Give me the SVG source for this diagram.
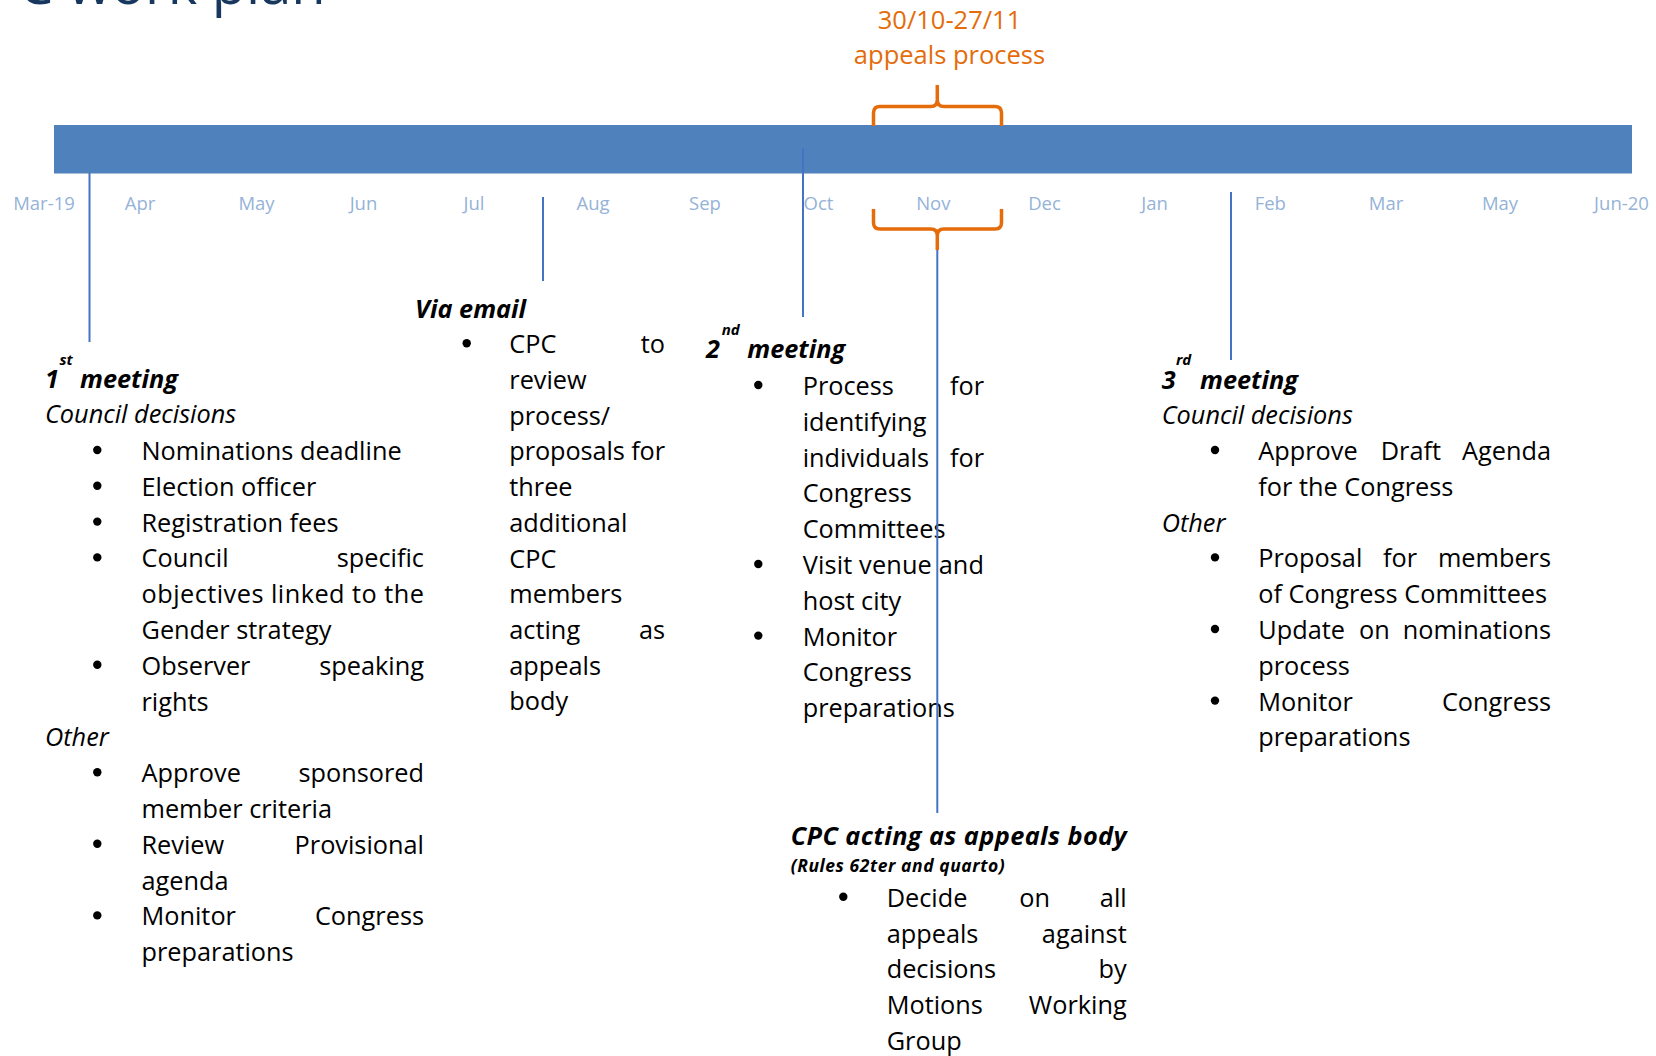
<svg xmlns="http://www.w3.org/2000/svg" width="1656" height="1056" viewBox="0 0 1656 1056">
<style>
text{font-family:"Open Sans","Liberation Sans",sans-serif;fill:#000}
.b{font-size:25.3px}
.i{font-size:25.3px;font-style:italic}
.h{font-size:25.3px;font-style:italic;font-weight:bold}
.sup{font-size:15px;font-style:italic;font-weight:bold}
.e{text-anchor:end}
.bul{fill:#000}
.m{font-size:18.5px;fill:#95B3D7;text-anchor:middle}
.o{font-size:25.5px;fill:#E46C0A;text-anchor:middle}
.ln{stroke:#4472C4;stroke-width:2;fill:none}
.br{stroke:#E46C0A;stroke-width:3.5;fill:none;stroke-linejoin:round}
</style>
<defs><circle id="dot" r="4.2" class="bul"/></defs>
<rect width="1656" height="1056" fill="#fff"/>
<text x="18" y="4" style="font-size:56px;fill:#17375E">C work plan</text>

<g id="timeline">
<rect x="54" y="125" width="1578" height="48.5" fill="#4F81BD"/>
<text class="m" x="44" y="210">Mar-19</text>
<text class="m" x="140" y="210">Apr</text>
<text class="m" x="256.5" y="210">May</text>
<text class="m" x="363.5" y="210">Jun</text>
<text class="m" x="474" y="210">Jul</text>
<text class="m" x="593" y="210">Aug</text>
<text class="m" x="705" y="210">Sep</text>
<text class="m" x="818.5" y="210">Oct</text>
<text class="m" x="933.3" y="210">Nov</text>
<text class="m" x="1044.5" y="210">Dec</text>
<text class="m" x="1154.5" y="210">Jan</text>
<text class="m" x="1270.3" y="210">Feb</text>
<text class="m" x="1386" y="210">Mar</text>
<text class="m" x="1500" y="210">May</text>
<text class="m" x="1621.5" y="210">Jun-20</text>
</g>

<g id="appeals-label">
<text class="o" x="949.5" y="29">30/10-27/11</text>
<text class="o" x="949.5" y="64">appeals process</text>
</g>

<g id="connectors">
<line class="ln" x1="89.5" y1="173" x2="89.5" y2="342"/>
<line class="ln" x1="543" y1="197" x2="543" y2="281"/>
<line class="ln" x1="803" y1="148" x2="803" y2="317"/>
<line class="ln" x1="1231" y1="192" x2="1231" y2="360"/>
<path class="br" d="M873.5,126 L873.5,113 Q873.5,106.5 880,106.5 L930.8,106.5 Q937.3,106.5 937.3,100 L937.3,85 M937.3,100 Q937.3,106.5 943.8,106.5 L995,106.5 Q1001.5,106.5 1001.5,113 L1001.5,126"/>
<path class="br" d="M873.5,209 L873.5,222.5 Q873.5,229 880,229 L930.8,229 Q937.3,229 937.3,235.5 L937.3,250 M937.3,235.5 Q937.3,229 943.8,229 L995,229 Q1001.5,229 1001.5,222.5 L1001.5,209"/>
</g>

<g id="meeting1">
<text class="h" x="45" y="388">1</text>
<text class="sup" x="59.5" y="365">st</text>
<text class="h" x="80" y="388">meeting</text>
<text class="i" x="45" y="423">Council decisions</text>
<use href="#dot" x="97.3" y="450"/>
<use href="#dot" x="97.3" y="485.8"/>
<use href="#dot" x="97.3" y="521.6"/>
<use href="#dot" x="97.3" y="557.4"/>
<use href="#dot" x="97.3" y="664.8"/>
<use href="#dot" x="97.3" y="772.2"/>
<use href="#dot" x="97.3" y="843.8"/>
<use href="#dot" x="97.3" y="915.4"/>
<text class="b" x="141.5" y="460">Nominations deadline</text>
<text class="b" x="141.5" y="495.8">Election officer</text>
<text class="b" x="141.5" y="531.6">Registration fees</text>
<text class="b" x="141.5" y="567.4">Council</text><text class="b e" x="424" y="567.4">specific</text>
<text class="b" x="141.5" y="603.2" textLength="282.5" lengthAdjust="spacing">objectives linked to the</text>
<text class="b" x="141.5" y="639">Gender strategy</text>
<text class="b" x="141.5" y="674.8">Observer</text><text class="b e" x="424" y="674.8">speaking</text>
<text class="b" x="141.5" y="710.6">rights</text>
<text class="i" x="45" y="746.4">Other</text>
<text class="b" x="141.5" y="782.2">Approve</text><text class="b e" x="424" y="782.2">sponsored</text>
<text class="b" x="141.5" y="818">member criteria</text>
<text class="b" x="141.5" y="853.8">Review</text><text class="b e" x="424" y="853.8">Provisional</text>
<text class="b" x="141.5" y="889.6">agenda</text>
<text class="b" x="141.5" y="925.4">Monitor</text><text class="b e" x="424" y="925.4">Congress</text>
<text class="b" x="141.5" y="961.2">preparations</text>
</g>

<g id="via-email">
<text class="h" x="415" y="318">Via email</text>
<use href="#dot" x="466.7" y="343.3"/>
<text class="b" x="509.3" y="353.3">CPC</text><text class="b e" x="665" y="353.3">to</text>
<text class="b" x="509.3" y="389">review</text>
<text class="b" x="509.3" y="424.7">process/</text>
<text class="b" x="509.3" y="460.4" textLength="155.7" lengthAdjust="spacing">proposals for</text>
<text class="b" x="509.3" y="496.1">three</text>
<text class="b" x="509.3" y="531.8">additional</text>
<text class="b" x="509.3" y="567.5">CPC</text>
<text class="b" x="509.3" y="603.2">members</text>
<text class="b" x="509.3" y="638.9">acting</text><text class="b e" x="665" y="638.9">as</text>
<text class="b" x="509.3" y="674.6">appeals</text>
<text class="b" x="509.3" y="710.3">body</text>
</g>

<g id="meeting2">
<text class="h" x="706" y="358.3">2</text>
<text class="sup" x="721.7" y="335">nd</text>
<text class="h" x="747.3" y="358.3">meeting</text>
<use href="#dot" x="758.3" y="385"/>
<use href="#dot" x="758.3" y="564"/>
<use href="#dot" x="758.3" y="635.6"/>
<text class="b" x="802.7" y="395">Process</text><text class="b e" x="984" y="395">for</text>
<text class="b" x="802.7" y="430.8">identifying</text>
<text class="b" x="802.7" y="466.6">individuals</text><text class="b e" x="984" y="466.6">for</text>
<text class="b" x="802.7" y="502.4">Congress</text>
<text class="b" x="802.7" y="538.2">Committees</text>
<text class="b" x="802.7" y="574" textLength="181.3" lengthAdjust="spacing">Visit venue and</text>
<text class="b" x="802.7" y="609.8">host city</text>
<text class="b" x="802.7" y="645.6">Monitor</text>
<text class="b" x="802.7" y="681.4">Congress</text>
<text class="b" x="802.7" y="717.2">preparations</text>
</g>

<g id="appeals-line">
<line class="ln" x1="937.3" y1="250" x2="937.3" y2="813"/>
</g>

<g id="appeals-body">
<text class="h" x="790.7" y="845" textLength="336" lengthAdjust="spacing">CPC acting as appeals body</text>
<text class="sup" style="font-size:17.5px" x="790.7" y="871.7" textLength="214" lengthAdjust="spacing">(Rules 62ter and quarto)</text>
<use href="#dot" x="843.3" y="896.7"/>
<text class="b" x="886.7" y="906.7">Decide</text><text class="b" x="1019.3" y="906.7">on</text><text class="b e" x="1126.7" y="906.7">all</text>
<text class="b" x="886.7" y="942.5">appeals</text><text class="b e" x="1126.7" y="942.5">against</text>
<text class="b" x="886.7" y="978.3">decisions</text><text class="b e" x="1126.7" y="978.3">by</text>
<text class="b" x="886.7" y="1014.1">Motions</text><text class="b e" x="1126.7" y="1014.1">Working</text>
<text class="b" x="886.7" y="1049.9">Group</text>
</g>

<g id="meeting3">
<text class="h" x="1161.7" y="389.3">3</text>
<text class="sup" x="1176" y="365">rd</text>
<text class="h" x="1200" y="389.3">meeting</text>
<text class="i" x="1161.7" y="424">Council decisions</text>
<use href="#dot" x="1215" y="450"/>
<use href="#dot" x="1215" y="557.4"/>
<use href="#dot" x="1215" y="629"/>
<use href="#dot" x="1215" y="700.6"/>
<text class="b" x="1258.3" y="460">Approve</text><text class="b" x="1380.7" y="460">Draft</text><text class="b e" x="1551" y="460">Agenda</text>
<text class="b" x="1258.3" y="495.8">for the Congress</text>
<text class="i" x="1161.7" y="531.6">Other</text>
<text class="b" x="1258.3" y="567.4">Proposal</text><text class="b" x="1383" y="567.4">for</text><text class="b e" x="1551" y="567.4">members</text>
<text class="b" x="1258.3" y="603.2">of Congress Committees</text>
<text class="b" x="1258.3" y="639">Update</text><text class="b" x="1359" y="639">on</text><text class="b e" x="1551" y="639">nominations</text>
<text class="b" x="1258.3" y="674.8">process</text>
<text class="b" x="1258.3" y="710.6">Monitor</text><text class="b e" x="1551" y="710.6">Congress</text>
<text class="b" x="1258.3" y="746.4">preparations</text>
</g>
</svg>
